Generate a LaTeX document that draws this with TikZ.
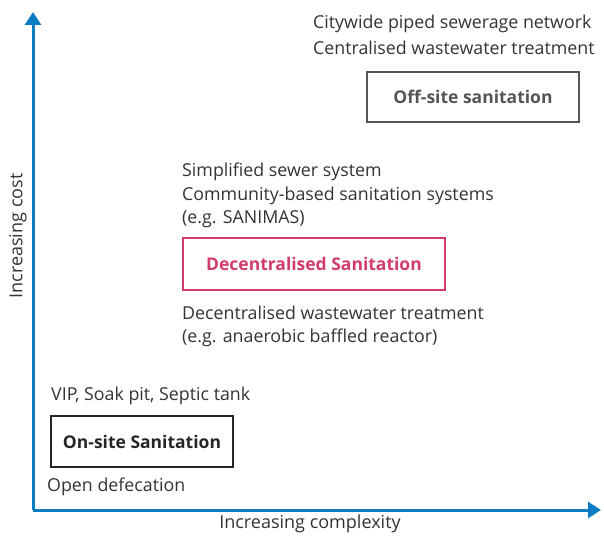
\documentclass[tikz,border=0pt]{standalone}
\usepackage{fontspec}
\setmainfont{Open Sans}
\usetikzlibrary{arrows.meta}
\definecolor{axisblue}{HTML}{0A7CC4}
\definecolor{decpink}{HTML}{D23C6C}
\definecolor{txtgray}{HTML}{333333}
\definecolor{offgray}{HTML}{555555}
\tikzset{
  axis/.style={draw=axisblue, line width=3pt, -{Triangle[length=13pt,width=16pt]}},
  lbl/.style={anchor=west, inner sep=0pt, text=txtgray, font=\fontsize{17.8}{20}\selectfont},
  boxlbl/.style={draw, line width=2pt, inner sep=0pt, font=\bfseries\fontsize{17.5}{20}\selectfont},
}
\begin{document}
\begin{tikzpicture}[x=1pt,y=-1pt]
\useasboundingbox (0,0) rectangle (604,535);
\coordinate (o) at (33,510);
\coordinate (ytip) at (33,12);
\coordinate (xtip) at (601,510);
\draw[axis] (o) -- (ytip);
\draw[axis] (o) -- (xtip);
\node[rotate=90, text=txtgray, font=\fontsize{18}{20}\selectfont] (ylab) at (18,236) {Increasing cost};
\node[text=txtgray, font=\fontsize{18}{20}\selectfont] (xlab) at (310,524) {Increasing complexity};
% off-site
\node[boxlbl, draw=offgray, text=offgray, minimum width=212pt, minimum height=50pt] (off) at (473,97) {Off-site sanitation};
\node[lbl] (off1) at (313,24) {Citywide piped sewerage network};
\node[lbl] (off2) at (313,48) {Centralised wastewater treatment};
% decentralised
\node[boxlbl, draw=decpink, text=decpink, minimum width=262pt, minimum height=52pt] (dec) at (314,264) {Decentralised Sanitation};
\node[lbl] (dec1) at (182,172) {Simplified sewer system};
\node[lbl] (dec2) at (182,196) {Community-based sanitation systems};
\node[lbl] (dec3) at (182,219) {(e.g. SANIMAS)};
\node[lbl] (dec4) at (182,313) {Decentralised wastewater treatment};
\node[lbl] (dec5) at (182,338) {(e.g. anaerobic baffled reactor)};
% on-site
\node[boxlbl, draw=black!85, text=black!85, minimum width=182pt, minimum height=51pt] (on) at (142,441.5) {On-site Sanitation};
\node[lbl] (on1) at (51,396) {VIP, Soak pit, Septic tank};
\node[lbl] (on2) at (47,487) {Open defecation};
\end{tikzpicture}
\end{document}
